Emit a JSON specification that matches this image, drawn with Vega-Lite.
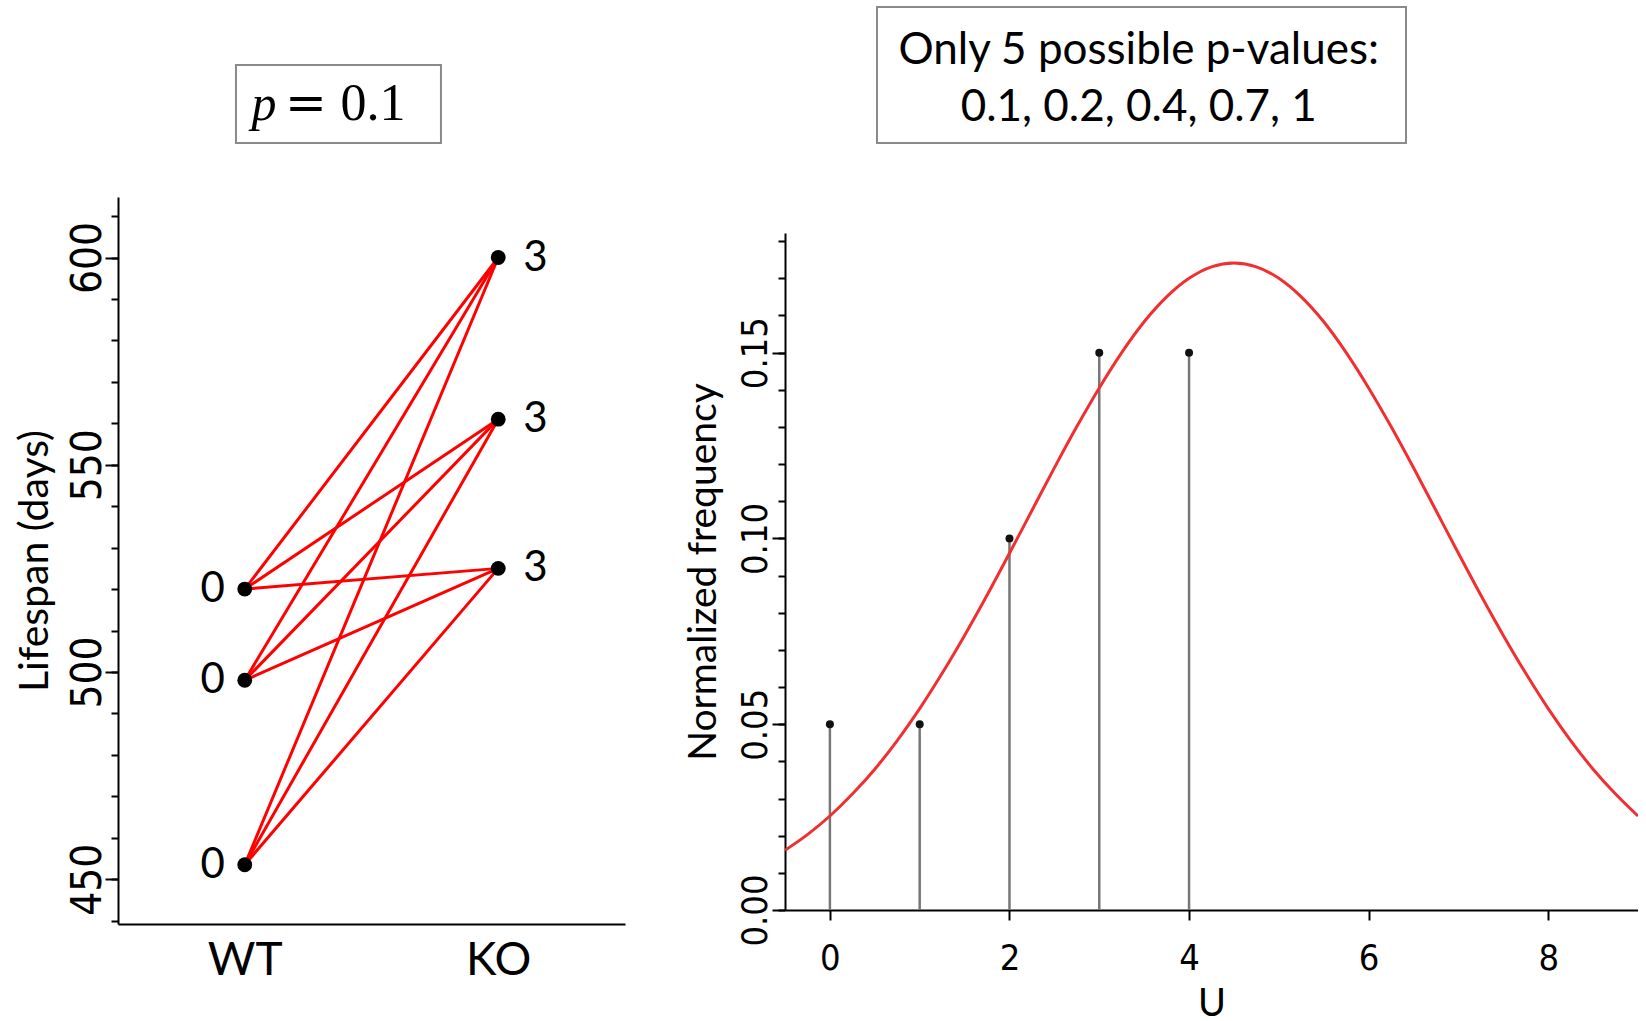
{
  "$schema": "https://vega.github.io/schema/vega-lite/v6.json",
  "background": "white",
  "padding": {"left": 13, "top": 6, "right": 0, "bottom": 0},
  "spacing": 59,
  "config": {
    "view": {"stroke": null},
    "axis": {"domainColor": "black", "domainWidth": 2, "tickColor": "black", "tickWidth": 2, "labelColor": "black", "titleColor": "black", "grid": false, "titleFontWeight": "normal", "labelOverlap": false}
  },
  "datasets": {
    "mice": [
      {"group": "WT", "lifespan": 520, "rank": "0"},
      {"group": "WT", "lifespan": 498, "rank": "0"},
      {"group": "WT", "lifespan": 453.5, "rank": "0"},
      {"group": "KO", "lifespan": 600, "rank": "3"},
      {"group": "KO", "lifespan": 561, "rank": "3"},
      {"group": "KO", "lifespan": 525, "rank": "3"}
    ],
    "pairs": [
      {"pair": "a", "group": "WT", "lifespan": 520}, {"pair": "a", "group": "KO", "lifespan": 600},
      {"pair": "b", "group": "WT", "lifespan": 520}, {"pair": "b", "group": "KO", "lifespan": 561},
      {"pair": "c", "group": "WT", "lifespan": 520}, {"pair": "c", "group": "KO", "lifespan": 525},
      {"pair": "d", "group": "WT", "lifespan": 498}, {"pair": "d", "group": "KO", "lifespan": 600},
      {"pair": "e", "group": "WT", "lifespan": 498}, {"pair": "e", "group": "KO", "lifespan": 561},
      {"pair": "f", "group": "WT", "lifespan": 498}, {"pair": "f", "group": "KO", "lifespan": 525},
      {"pair": "g", "group": "WT", "lifespan": 453.5}, {"pair": "g", "group": "KO", "lifespan": 600},
      {"pair": "h", "group": "WT", "lifespan": 453.5}, {"pair": "h", "group": "KO", "lifespan": 561},
      {"pair": "i", "group": "WT", "lifespan": 453.5}, {"pair": "i", "group": "KO", "lifespan": 525}
    ],
    "stems": [
      {"u": 0, "freq": 0.05},
      {"u": 1, "freq": 0.05},
      {"u": 2, "freq": 0.1},
      {"u": 3, "freq": 0.15},
      {"u": 4, "freq": 0.15}
    ],
    "curve": [
      {"u": -0.5, "freq": 0.0161}, {"u": -0.25, "freq": 0.0203}, {"u": 0, "freq": 0.0253}, {"u": 0.25, "freq": 0.0312},
      {"u": 0.5, "freq": 0.0379}, {"u": 0.75, "freq": 0.0456}, {"u": 1, "freq": 0.0542}, {"u": 1.25, "freq": 0.0637},
      {"u": 1.5, "freq": 0.0739}, {"u": 1.75, "freq": 0.0847}, {"u": 2, "freq": 0.096}, {"u": 2.25, "freq": 0.1075},
      {"u": 2.5, "freq": 0.119}, {"u": 2.75, "freq": 0.1301}, {"u": 3, "freq": 0.1405}, {"u": 3.25, "freq": 0.15},
      {"u": 3.5, "freq": 0.1583}, {"u": 3.75, "freq": 0.165}, {"u": 4, "freq": 0.17}, {"u": 4.25, "freq": 0.1731},
      {"u": 4.5, "freq": 0.1741}, {"u": 4.75, "freq": 0.1731}, {"u": 5, "freq": 0.17}, {"u": 5.25, "freq": 0.165},
      {"u": 5.5, "freq": 0.1583}, {"u": 5.75, "freq": 0.15}, {"u": 6, "freq": 0.1405}, {"u": 6.25, "freq": 0.1301},
      {"u": 6.5, "freq": 0.119}, {"u": 6.75, "freq": 0.1075}, {"u": 7, "freq": 0.096}, {"u": 7.25, "freq": 0.0847},
      {"u": 7.5, "freq": 0.0739}, {"u": 7.75, "freq": 0.0637}, {"u": 8, "freq": 0.0542}, {"u": 8.25, "freq": 0.0456},
      {"u": 8.5, "freq": 0.0379}, {"u": 8.75, "freq": 0.0312}, {"u": 9, "freq": 0.0253}
    ]
  },
  "hconcat": [
    {
      "width": 507,
      "height": 727,
      "layer": [
        {
          "layer": [
            {
              "data": {"name": "pairs"},
              "mark": {"type": "line", "color": "#ff0000", "strokeWidth": 3},
              "encoding": {
                "x": {"field": "group", "type": "nominal", "sort": ["WT", "KO"],
                  "scale": {"type": "point", "domain": ["WT", "KO"], "padding": 0.5},
                  "axis": {"title": null, "ticks": false, "labelAngle": 0, "labelFont": "Lato", "labelFontSize": 46, "labelPadding": 14}},
                "y": {"field": "lifespan", "type": "quantitative",
                  "scale": {"domain": [439.2, 614.6], "nice": false, "zero": false},
                  "axis": {"orient": "left", "title": "Lifespan (days)", "titleFont": "Lato", "titleFontSize": 41, "titlePadding": 10,
                    "values": [450, 500, 550, 600], "tickSize": 13,
                    "labelAngle": -90, "labelAlign": "center", "labelBaseline": "alphabetic",
                    "labelFont": "DejaVu Sans Condensed, Liberation Sans", "labelFontSize": 42, "labelPadding": 5}},
                "detail": {"field": "pair"}
              }
            },
            {
              "data": {"name": "mice"},
              "mark": {"type": "circle", "size": 220, "color": "black", "opacity": 1},
              "encoding": {
                "x": {"field": "group", "type": "nominal"},
                "y": {"field": "lifespan", "type": "quantitative",
                  "axis": {"orient": "left", "title": null, "labels": false, "domain": false, "tickSize": 7,
                    "values": [440, 450, 460, 470, 480, 490, 500, 510, 520, 530, 540, 550, 560, 570, 580, 590, 600, 610]}}
              }
            },
            {
              "data": {"name": "mice"},
              "transform": [{"filter": "datum.group == 'WT'"}],
              "mark": {"type": "text", "align": "right", "baseline": "middle", "dx": -20, "font": "Lato", "fontSize": 42, "color": "black"},
              "encoding": {
                "x": {"field": "group", "type": "nominal"},
                "y": {"field": "lifespan", "type": "quantitative", "axis": null},
                "text": {"field": "rank"}
              }
            },
            {
              "data": {"name": "mice"},
              "transform": [{"filter": "datum.group == 'KO'"}],
              "mark": {"type": "text", "align": "left", "baseline": "middle", "dx": 25, "font": "Lato", "fontSize": 42, "color": "black"},
              "encoding": {
                "x": {"field": "group", "type": "nominal"},
                "y": {"field": "lifespan", "type": "quantitative", "axis": null},
                "text": {"field": "rank"}
              }
            }
          ],
          "resolve": {"axis": {"y": "independent"}}
        },
        {
          "data": {"values": [{}]},
          "layer": [
            {
              "mark": {"type": "rect", "fill": "white", "fillOpacity": 0, "stroke": "#8a8a8a", "strokeWidth": 2, "clip": false},
              "encoding": {
                "x": {"datum": 0.2327, "type": "quantitative", "scale": {"domain": [0, 1], "nice": false, "zero": false}, "axis": null},
                "x2": {"datum": 0.637},
                "y": {"datum": 646.45, "type": "quantitative", "scale": {"domain": [439.2, 614.6], "nice": false, "zero": false}, "axis": null},
                "y2": {"datum": 627.63}
              }
            },
            {
              "mark": {"type": "text", "text": "p", "align": "center", "baseline": "alphabetic", "font": "Liberation Serif", "fontStyle": "italic", "fontSize": 50, "color": "black", "clip": false},
              "encoding": {
                "x": {"datum": 0.288, "type": "quantitative"},
                "y": {"datum": 633.18, "type": "quantitative", "axis": null}
              }
            },
            {
              "mark": {"type": "text", "text": "=", "align": "center", "baseline": "alphabetic", "font": "DejaVu Serif", "fontSize": 50, "color": "black", "clip": false},
              "encoding": {
                "x": {"datum": 0.3708, "type": "quantitative"},
                "y": {"datum": 633.18, "type": "quantitative", "axis": null}
              }
            },
            {
              "mark": {"type": "text", "text": "0.1", "align": "center", "baseline": "alphabetic", "font": "Liberation Serif", "fontSize": 52, "color": "black", "clip": false},
              "encoding": {
                "x": {"datum": 0.503, "type": "quantitative"},
                "y": {"datum": 633.18, "type": "quantitative", "axis": null}
              }
            }
          ]
        }
      ],
      "resolve": {"scale": {"x": "independent"}, "axis": {"y": "independent"}}
    },
    {
      "width": 853,
      "height": 713,
      "layer": [
        {
          "data": {"name": "stems"},
          "mark": {"type": "rule", "color": "#777777", "strokeWidth": 2.5},
          "encoding": {
            "x": {"field": "u", "type": "quantitative",
              "scale": {"domain": [-0.5, 9], "nice": false, "zero": false},
              "axis": {"title": "U", "titleFont": "Lato", "titleFontSize": 38, "titlePadding": 9, "format": "d",
                "values": [0, 2, 4, 6, 8], "tickSize": 10, "labelFont": "DejaVu Sans Condensed, Liberation Sans", "labelFontSize": 36, "labelPadding": 21, "labelAngle": 0}},
            "y": {"field": "freq", "type": "quantitative",
              "scale": {"domain": [0, 0.1822], "nice": false, "range": [713, 36]},
              "axis": {"orient": "left", "title": "Normalized frequency", "titleFont": "Lato", "titleFontSize": 39, "titlePadding": 14,
                "values": [0, 0.05, 0.1, 0.15], "format": ".2f", "tickSize": 13,
                "labelAngle": -90, "labelAlign": "center", "labelBaseline": "alphabetic",
                "labelFont": "DejaVu Sans Condensed, Liberation Sans", "labelFontSize": 36, "labelPadding": 6}},
            "y2": {"datum": 0}
          }
        },
        {
          "data": {"name": "curve"},
          "mark": {"type": "line", "color": "#f03030", "strokeWidth": 3, "clip": true, "interpolate": "monotone"},
          "encoding": {
            "x": {"field": "u", "type": "quantitative"},
            "y": {"field": "freq", "type": "quantitative", "axis": null}
          }
        },
        {
          "data": {"name": "stems"},
          "mark": {"type": "circle", "size": 64, "color": "#111111", "opacity": 1},
          "encoding": {
            "x": {"field": "u", "type": "quantitative"},
            "y": {"field": "freq", "type": "quantitative",
              "axis": {"orient": "left", "title": null, "labels": false, "domain": false, "tickSize": 7,
                "values": [0, 0.01, 0.02, 0.03, 0.04, 0.05, 0.06, 0.07, 0.08, 0.09, 0.1, 0.11, 0.12, 0.13, 0.14, 0.15, 0.16, 0.17, 0.18]}}
          }
        },
        {
          "data": {"values": [{}]},
          "mark": {"type": "rect", "fill": "white", "fillOpacity": 0, "stroke": "#8a8a8a", "strokeWidth": 2, "clip": false},
          "encoding": {
            "x": {"datum": 0.5246, "type": "quantitative"},
            "x2": {"datum": 6.416},
            "y": {"datum": 0.243, "type": "quantitative", "axis": null},
            "y2": {"datum": 0.2064}
          }
        },
        {
          "data": {"values": [{}]},
          "mark": {"type": "text", "text": "Only 5 possible p-values:", "align": "center", "baseline": "alphabetic", "font": "Lato", "fontSize": 44, "color": "black", "clip": false},
          "encoding": {
            "x": {"datum": 3.44, "type": "quantitative"},
            "y": {"datum": 0.2278, "type": "quantitative", "axis": null}
          }
        },
        {
          "data": {"values": [{}]},
          "mark": {"type": "text", "text": "0.1, 0.2, 0.4, 0.7, 1", "align": "center", "baseline": "alphabetic", "font": "Lato", "fontSize": 44, "color": "black", "clip": false},
          "encoding": {
            "x": {"datum": 3.44, "type": "quantitative"},
            "y": {"datum": 0.2124, "type": "quantitative", "axis": null}
          }
        }
      ],
      "resolve": {"axis": {"y": "independent"}}
    }
  ]
}
